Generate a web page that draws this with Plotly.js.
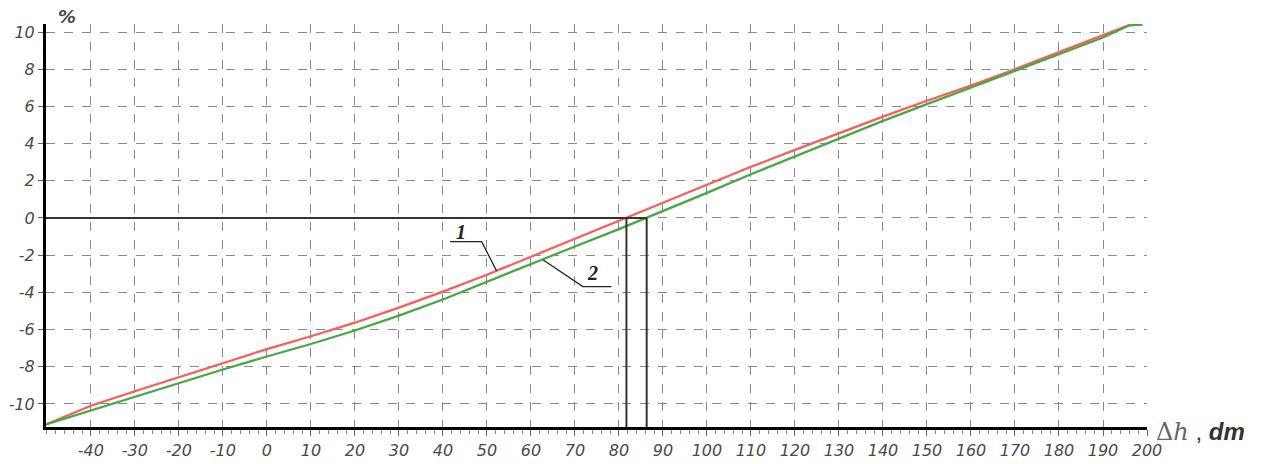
<!DOCTYPE html>
<html><head><meta charset="utf-8">
<script src="https://cdn.plot.ly/plotly-3.0.1.min.js"></script>
<style>html,body{margin:0;padding:0;background:#fff}#chart{width:1266px;height:464px}</style>
</head><body><div id="chart"></div>
<script>
// Data
const xs1 = [-50.2,-40,-30,-20,-10,0,10,20,30,40,50,60,70,80,90,100,110,120,130,140,150,160,170,180,190,196];
const curve1 = [-11.1,-10.1,-9.32,-8.56,-7.8,-7.05,-6.36,-5.63,-4.82,-3.96,-3.05,-2.1,-1.12,-0.15,0.82,1.8,2.75,3.66,4.56,5.45,6.3,7.12,8.0,8.9,9.8,10.38];
const xs2 = [-50.2,-40,-30,-20,-10,0,10,20,30,40,50,60,70,80,90,100,110,120,130,140,150,160,170,180,190,196,199];
const curve2 = [-11.1,-10.35,-9.6,-8.86,-8.15,-7.45,-6.78,-6.05,-5.25,-4.38,-3.42,-2.47,-1.53,-0.6,0.36,1.35,2.35,3.32,4.28,5.22,6.12,7.0,7.9,8.8,9.7,10.36,10.4];
const zeroCross = [81.7, 86.3];
const xTickVals = [-40,-30,-20,-10,0,10,20,30,40,50,60,70,80,90,100,110,120,130,140,150,160,170,180,190,200];
const xTickText = ["-40","-30","-20","-10","0","10","20","30","40","50","60","70","80","90","100","110","120","130","140","150","160","170","180","190","200"];
const yTickVals = [-10,-8,-6,-4,-2,0,2,4,6,8,10];
const yTickText = ["-10","-8","-6","-4","-2","0","2","4","6","8","10"];
const seriesLabels = ["1","2"];

const XR = [-50.2, 200];
const YR = [-11.24, 10.43];
const tickFont = {family: "DejaVu Sans, sans-serif", size: 16, color: "#4a4a4a", style: "italic"};

const traces = [
  {x: xs1, y: curve1, mode: "lines", line: {color: "#ff5a5a", width: 2.2}, name: seriesLabels[0], hoverinfo: "skip"},
  {x: xs2, y: curve2, mode: "lines", line: {color: "#45a845", width: 2.2}, name: seriesLabels[1], hoverinfo: "skip"}
];

const lineCol = "#333";
const shapes = [
  {type: "line", xref: "x", yref: "y", x0: XR[0], x1: zeroCross[1], y0: 0, y1: 0, line: {color: lineCol, width: 2}},
  {type: "line", xref: "x", yref: "y", x0: zeroCross[0], x1: zeroCross[0], y0: 0, y1: YR[0], line: {color: lineCol, width: 2}},
  {type: "line", xref: "x", yref: "y", x0: zeroCross[1], x1: zeroCross[1], y0: 0, y1: YR[0], line: {color: lineCol, width: 2}},
  {type: "path", xref: "x", yref: "y", path: "M41.6,-1.27 L48.8,-1.27 L52.2,-2.85", line: {color: "#222", width: 1.3}},
  {type: "path", xref: "x", yref: "y", path: "M62.8,-2.26 L71.8,-3.69 L78.3,-3.69", line: {color: "#222", width: 1.3}}
];

const labelFont = {family: "Liberation Serif, Times New Roman, serif", size: 20, color: "#222", weight: "bold", style: "italic"};
const annotations = [
  {x: 44.2, y: -0.75, xref: "x", yref: "y", text: seriesLabels[0], showarrow: false, font: labelFont},
  {x: 74.1, y: -2.96, xref: "x", yref: "y", text: seriesLabels[1], showarrow: false, font: labelFont},
  {x: 0.009, y: 1.0, xref: "paper", yref: "paper", xanchor: "left", yanchor: "bottom", yshift: -5,
   text: "<b><i>%</i></b>", showarrow: false, font: {family: "DejaVu Sans, sans-serif", size: 18, color: "#4a4a4a"}},
  {x: 1.006, y: -0.012, xref: "paper", yref: "paper", xanchor: "left", yanchor: "middle",
   text: '<span style="font-family:DejaVu Serif;color:#666">Δ<i>h</i></span> , <b><i>dm</i></b>', showarrow: false,
   font: {family: "Liberation Sans, Arial, sans-serif", size: 24, color: "#333"}}
];

const layout = {
  width: 1266, height: 464,
  margin: {l: 46, r: 119, t: 24, b: 37, pad: 0},
  paper_bgcolor: "#fff", plot_bgcolor: "#fff",
  showlegend: false,
  xaxis: {
    range: XR, showline: true, linecolor: "#000", linewidth: 3,
    tickmode: "array", tickvals: xTickVals, ticktext: xTickText,
    ticks: "outside", ticklen: 6, tickwidth: 1, tickcolor: "#666",
    minor: {dtick: 2, ticks: "outside", ticklen: 4, tickcolor: "#888", showgrid: false},
    showgrid: true, gridcolor: "#8a8a8a", griddash: "dash", gridwidth: 1,
    zeroline: false, tickfont: tickFont, ticklabelstandoff: 1
  },
  yaxis: {
    range: YR, showline: true, linecolor: "#000", linewidth: 3,
    tickmode: "array", tickvals: yTickVals, ticktext: yTickText,
    ticks: "outside", ticklen: 5, tickwidth: 1, tickcolor: "#666",
    showgrid: true, gridcolor: "#8a8a8a", griddash: "dash", gridwidth: 1,
    zeroline: false, tickfont: tickFont, ticklabelstandoff: 0
  },
  shapes: shapes,
  annotations: annotations
};

Plotly.newPlot("chart", traces, layout, {staticPlot: true, displayModeBar: false});
</script>
</body></html>
